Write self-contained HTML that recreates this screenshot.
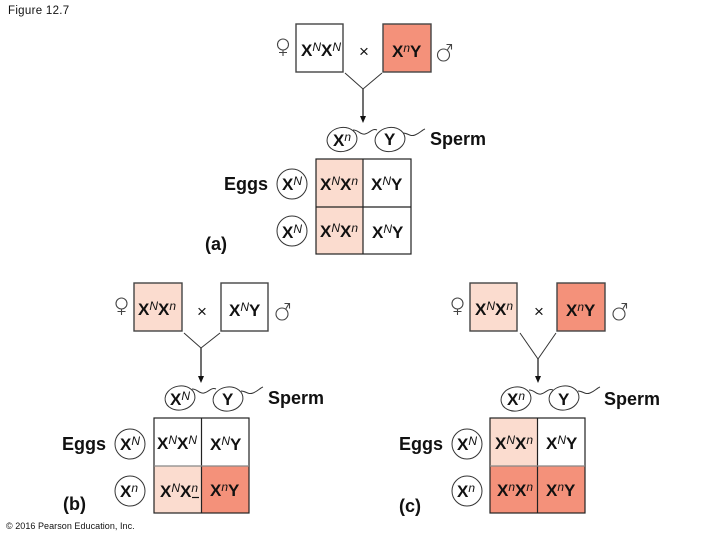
<!DOCTYPE html>
<html>
<head>
<meta charset="utf-8">
<style>
html,body{margin:0;padding:0;background:#fff;width:720px;height:540px;overflow:hidden}
svg{display:block}
text{font-family:"Liberation Sans",sans-serif;fill:#111}
.b{font-weight:700;font-size:17px}
.l{font-weight:700;font-size:18px}
.sup{font-style:italic;font-weight:400;font-size:12px}
.box{stroke:#444;stroke-width:1.4}
.grid{stroke:#222;stroke-width:1.2;fill:none}
.thin{stroke:#333;stroke-width:1;fill:none}
.stem{stroke:#222;stroke-width:1.3;fill:none}
.g{stroke:#444;stroke-width:1.1;fill:none}
</style>
</head>
<body>
<svg width="720" height="540" viewBox="0 0 720 540" xmlns="http://www.w3.org/2000/svg">
<rect width="720" height="540" fill="#fff"/>
<text x="8" y="14" style="font-size:11.5px;letter-spacing:.3px">Figure 12.7</text>

<!-- PANEL A -->
<rect class="box" x="296" y="24" width="47" height="48" fill="#fff"/>
<rect class="box" x="383" y="24" width="48" height="48" fill="#f4917a"/>
<path class="g" d="M283 50V56M279 52.500H287"/><circle class="g" cx="283" cy="44.500" r="5.500"/>
<circle class="g" cx="443.500" cy="55" r="6"/><path class="g" d="M447 50.500L451 44.500M446.500 44.500H451.500V49.500"/>
<text x="359" y="57" style="font-size:17px" fill="#333">×</text>
<text class="b" x="301" y="56">X<tspan class="sup" dy="-5">N</tspan><tspan dy="5">X</tspan><tspan class="sup" dy="-5">N</tspan></text>
<text class="b" x="392" y="57">X<tspan class="sup" dy="-5">n</tspan><tspan dy="5">Y</tspan></text>
<path class="thin" d="M345 73L363 89L382 73"/>
<path class="stem" d="M363 89V117"/>
<path d="M360 116h6l-3 7z" fill="#111"/>
<ellipse class="thin" cx="342" cy="139.500" rx="15" ry="12" transform="rotate(-10 342 139.500)"/>
<ellipse class="thin" cx="390" cy="139.500" rx="15" ry="12" transform="rotate(-10 390 139.500)"/>
<path class="thin" d="M353 130c6 0 7 5 12 4s7-6 12-4"/>
<path class="thin" d="M403 133c5 0 7 4 12 2s7-5 10-6"/>
<text class="b" x="333" y="146">X<tspan class="sup" dy="-5">n</tspan></text>
<text class="b" x="384" y="145">Y</text>
<text class="l" x="430" y="145">Sperm</text>
<rect x="316" y="159" width="47" height="95" fill="#fbdccf"/>
<rect class="grid" x="316" y="159" width="95" height="95"/>
<path class="grid" d="M363 159V254M316 207H411"/>
<text class="l" x="224" y="190">Eggs</text>
<circle class="thin" cx="292" cy="184" r="15"/>
<circle class="thin" cx="292" cy="231" r="15"/>
<text class="b" x="282" y="190">X<tspan class="sup" dy="-5">N</tspan></text>
<text class="b" x="282" y="238">X<tspan class="sup" dy="-5">N</tspan></text>
<text class="b" x="320" y="190">X<tspan class="sup" dy="-5">N</tspan><tspan dy="5">X</tspan><tspan class="sup" dy="-5">n</tspan></text>
<text class="b" x="371" y="190">X<tspan class="sup" dy="-5">N</tspan><tspan dy="5">Y</tspan></text>
<text class="b" x="320" y="237">X<tspan class="sup" dy="-5">N</tspan><tspan dy="5">X</tspan><tspan class="sup" dy="-5">n</tspan></text>
<text class="b" x="372" y="238">X<tspan class="sup" dy="-5">N</tspan><tspan dy="5">Y</tspan></text>
<text class="l" x="205" y="250">(a)</text>

<!-- PANEL B -->
<rect class="box" x="134" y="283" width="48" height="48" fill="#fbdccf"/>
<rect class="box" x="221" y="283" width="47" height="48" fill="#fff"/>
<path class="g" d="M121.500 309V315M117.500 311.500H125.500"/><circle class="g" cx="121.500" cy="303.500" r="5.500"/>
<circle class="g" cx="282" cy="314" r="6"/><path class="g" d="M285.500 309.500L289 303.500M284.500 303.500H289.500V308.500"/>
<text x="197" y="317" style="font-size:17px" fill="#333">×</text>
<text class="b" x="138" y="315">X<tspan class="sup" dy="-5">N</tspan><tspan dy="5">X</tspan><tspan class="sup" dy="-5">n</tspan></text>
<text class="b" x="229" y="316">X<tspan class="sup" dy="-5">N</tspan><tspan dy="5">Y</tspan></text>
<path class="thin" d="M184 333L201 348L220 333"/>
<path class="stem" d="M201 348V377"/>
<path d="M198 376h6l-3 7z" fill="#111"/>
<ellipse class="thin" cx="180" cy="398" rx="15" ry="12" transform="rotate(-10 180 398)"/>
<ellipse class="thin" cx="228" cy="399" rx="15" ry="12" transform="rotate(-10 228 399)"/>
<path class="thin" d="M192 389c6 0 7 5 12 4s7-6 12-4"/>
<path class="thin" d="M241 391c5 0 7 4 12 2s7-5 10-6"/>
<text class="b" x="170" y="405">X<tspan class="sup" dy="-5">N</tspan></text>
<text class="b" x="222" y="405">Y</text>
<text class="l" x="268" y="404">Sperm</text>
<rect x="154" y="466" width="48" height="47" fill="#fbdccf"/>
<rect x="202" y="466" width="47" height="47" fill="#f4917a"/>
<rect class="grid" x="154" y="418" width="95" height="95"/>
<path class="grid" d="M201.500 418V513"/>
<path d="M154 466H249" stroke="#888" stroke-width="1.2"/>
<text class="l" x="62" y="450">Eggs</text>
<circle class="thin" cx="130" cy="444" r="15"/>
<circle class="thin" cx="130" cy="491" r="15"/>
<text class="b" x="120" y="450">X<tspan class="sup" dy="-5">N</tspan></text>
<text class="b" x="120" y="497">X<tspan class="sup" dy="-5">n</tspan></text>
<text class="b" x="157" y="449">X<tspan class="sup" dy="-5">N</tspan><tspan dy="5">X</tspan><tspan class="sup" dy="-5">N</tspan></text>
<text class="b" x="210" y="450">X<tspan class="sup" dy="-5">N</tspan><tspan dy="5">Y</tspan></text>
<text class="b" x="160" y="497">X<tspan class="sup" dy="-5">N</tspan><tspan dy="5">X</tspan><tspan class="sup" dy="-5">n</tspan></text>
<path d="M192 497.500h7" stroke="#111" stroke-width="1.2"/>
<text class="b" x="210" y="496">X<tspan class="sup" dy="-5">n</tspan><tspan dy="5">Y</tspan></text>
<text class="l" x="63" y="510">(b)</text>
<text x="6" y="529" style="font-size:9px;letter-spacing:.05px" fill="#333">© 2016 Pearson Education, Inc.</text>

<!-- PANEL C -->
<rect class="box" x="470" y="283" width="47" height="48" fill="#fbdccf"/>
<rect class="box" x="557" y="283" width="48" height="48" fill="#f4917a"/>
<path class="g" d="M457.500 309V315M453.500 311.500H461.500"/><circle class="g" cx="457.500" cy="303.500" r="5.500"/>
<circle class="g" cx="619" cy="314" r="6"/><path class="g" d="M622.500 309.500L626 303.500M621.500 303.500H626.500V308.500"/>
<text x="534" y="317" style="font-size:17px" fill="#333">×</text>
<text class="b" x="475" y="315">X<tspan class="sup" dy="-5">N</tspan><tspan dy="5">X</tspan><tspan class="sup" dy="-5">n</tspan></text>
<text class="b" x="566" y="316">X<tspan class="sup" dy="-5">n</tspan><tspan dy="5">Y</tspan></text>
<path class="thin" d="M520 333L538 359L556 333"/>
<path class="stem" d="M538 359V377"/>
<path d="M535 376h6l-3 7z" fill="#111"/>
<ellipse class="thin" cx="516" cy="399" rx="15" ry="12" transform="rotate(-10 516 399)"/>
<ellipse class="thin" cx="564" cy="398" rx="15" ry="12" transform="rotate(-10 564 398)"/>
<path class="thin" d="M529 390c6 0 7 5 12 4s7-6 12-4"/>
<path class="thin" d="M578 391c5 0 7 4 12 2s7-5 10-6"/>
<text class="b" x="507" y="405">X<tspan class="sup" dy="-5">n</tspan></text>
<text class="b" x="558" y="405">Y</text>
<text class="l" x="604" y="405">Sperm</text>
<rect x="490" y="418" width="48" height="48" fill="#fbdccf"/>
<rect x="490" y="466" width="95" height="47" fill="#f4917a"/>
<rect class="grid" x="490" y="418" width="95" height="95"/>
<path class="grid" d="M537.500 418V513"/>
<path d="M490 466H585" stroke="#888" stroke-width="1.2"/>
<text class="l" x="399" y="450">Eggs</text>
<circle class="thin" cx="467" cy="444" r="15"/>
<circle class="thin" cx="467" cy="491" r="15"/>
<text class="b" x="457" y="450">X<tspan class="sup" dy="-5">N</tspan></text>
<text class="b" x="457" y="497">X<tspan class="sup" dy="-5">n</tspan></text>
<text class="b" x="495" y="449">X<tspan class="sup" dy="-5">N</tspan><tspan dy="5">X</tspan><tspan class="sup" dy="-5">n</tspan></text>
<text class="b" x="546" y="449">X<tspan class="sup" dy="-5">N</tspan><tspan dy="5">Y</tspan></text>
<text class="b" x="497" y="496">X<tspan class="sup" dy="-5">n</tspan><tspan dy="5">X</tspan><tspan class="sup" dy="-5">n</tspan></text>
<text class="b" x="546" y="496">X<tspan class="sup" dy="-5">n</tspan><tspan dy="5">Y</tspan></text>
<text class="l" x="399" y="512">(c)</text>
</svg>
</body>
</html>
